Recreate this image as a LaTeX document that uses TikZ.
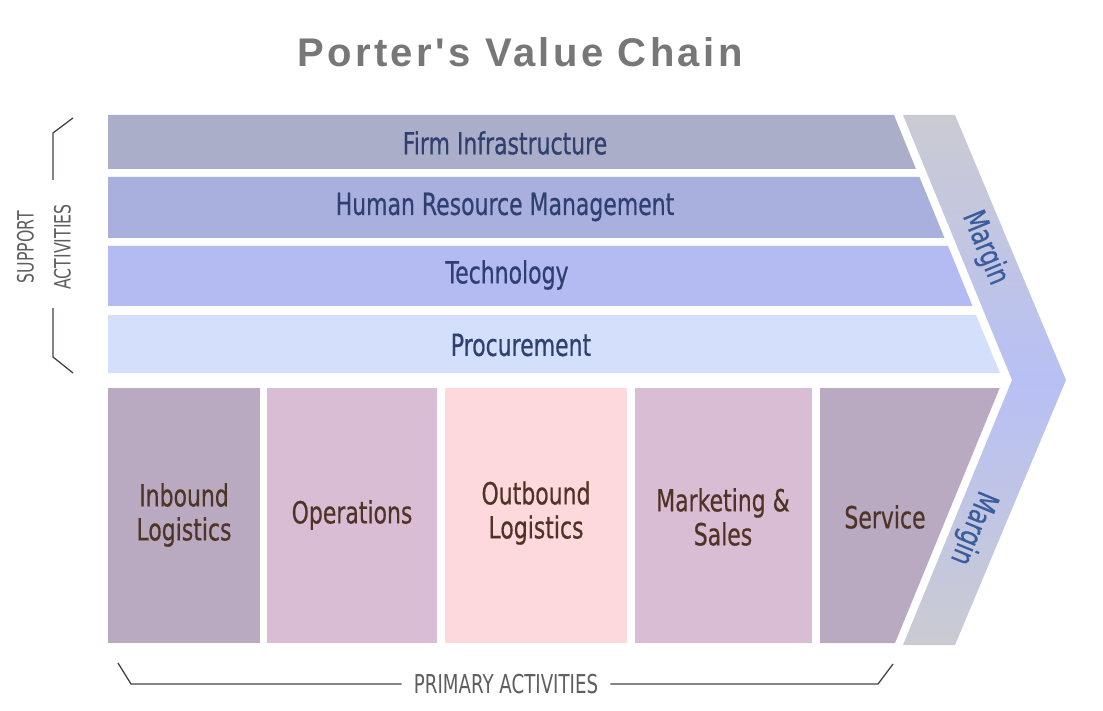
\documentclass[tikz,border=0pt]{standalone}
\usepackage{fontspec}
\setmainfont{Liberation Sans}
\newfontfamily\narrowfont[FakeStretch=0.72,FakeBold=0.5]{DejaVu Sans}
\newfontfamily\labelfont[FakeStretch=0.7]{DejaVu Sans}
\newfontfamily\titlefont[LetterSpace=8.5]{Liberation Sans}
\definecolor{fiC}{HTML}{ABAEC8}
\definecolor{hrC}{HTML}{A9B0DE}
\definecolor{teC}{HTML}{B3BBF2}
\definecolor{prC}{HTML}{D3DFFB}
\definecolor{darkP}{HTML}{B9AAC2}
\definecolor{lightP}{HTML}{D9BDD5}
\definecolor{pinkP}{HTML}{FDD8DC}
\definecolor{supTxt}{HTML}{2E3F70}
\definecolor{priTxt}{HTML}{4E3424}
\definecolor{grayTxt}{HTML}{5E5E5E}
\definecolor{titleC}{HTML}{777777}
\definecolor{mgGray}{HTML}{CACBD2}
\definecolor{mgBlue}{HTML}{B8C0F4}
\definecolor{mgTxt}{HTML}{3B5C9C}
\definecolor{brC}{HTML}{4A4040}
\tikzset{
  suptext/.style={font=\narrowfont\fontsize{30.5}{33}\selectfont, text=supTxt, inner sep=0pt},
  pritext/.style={font=\narrowfont\fontsize{30.5}{34}\selectfont, text=priTxt, inner sep=0pt, align=center},
  margintext/.style={font=\narrowfont\fontsize{31}{33}\selectfont, text=mgTxt, inner sep=0pt},
  labeltext/.style={font=\labelfont\fontsize{22.5}{37}\selectfont, text=grayTxt, inner sep=0pt, align=center},
  bracket/.style={draw=brC, line width=1.3pt}
}
\begin{document}
\begin{tikzpicture}[x=1pt,y=-1pt]
\useasboundingbox (0,0) rectangle (1103,711);
\fill[white] (0,0) rectangle (1103,711);
% title
\node[font=\titlefont\bfseries\fontsize{40}{42}\selectfont, text=titleC, inner sep=0pt] (title) at (520,52) {Porter's Value Chain};
% margin chevron
\shade[top color=mgGray, bottom color=mgBlue] (903,115) -- (955,115) -- (1066,380) -- (1012,380) -- cycle;
\shade[top color=mgBlue, bottom color=mgGray] (1012,380) -- (1066,380) -- (955,645) -- (903,645) -- cycle;
\node[margintext, rotate=-67.7] (m1) at (985,248) {Margin};
\node[margintext, rotate=-112.3] (m2) at (973,528) {Margin};
% support bars
\fill[fiC] (108,115) -- (894,115) -- (916,169) -- (108,169) -- cycle;
\fill[hrC] (108,177) -- (919.5,177) -- (944.5,238) -- (108,238) -- cycle;
\fill[teC] (108,246) -- (948,246) -- (972.5,306) -- (108,306) -- cycle;
\fill[prC] (108,315) -- (976,315) -- (1000,373) -- (108,373) -- cycle;
\node[suptext] (fi) at (505,143) {Firm Infrastructure};
\node[suptext] (hr) at (505,207) {Human Resource Management};
\node[suptext] (te) at (507,275) {Technology};
\node[suptext] (pr) at (521,345) {Procurement};
% primary boxes
\fill[darkP] (108,388) rectangle (260,643);
\fill[lightP] (267,388) rectangle (437,643);
\fill[pinkP] (445,388) rectangle (627,643);
\fill[lightP] (635,388) rectangle (812,643);
\fill[darkP] (820,388) -- (999.7,388) -- (895,643) -- (820,643) -- cycle;
\node[pritext] (ib) at (184,515) {Inbound\\Logistics};
\node[pritext] (op) at (352,515) {Operations};
\node[pritext] (ob) at (536,513) {Outbound\\Logistics};
\node[pritext] (ms) at (723,517) {Marketing \&\\Sales};
\node[pritext] (sv) at (885,517) {Service};
% support activities label and bracket
\node[labeltext, rotate=90] (sa) at (44,247) {SUPPORT\\ACTIVITIES};
\coordinate (sbt1) at (73,118);
\coordinate (sbt2) at (53,133);
\coordinate (sbt3) at (53,180);
\coordinate (sbb1) at (53,308);
\coordinate (sbb2) at (53,357);
\coordinate (sbb3) at (73,373);
\draw[bracket] (sbt1) -- (sbt2) -- (sbt3);
\draw[bracket] (sbb1) -- (sbb2) -- (sbb3);
% primary activities label and bracket
\node[labeltext, font=\labelfont\fontsize{26}{28}\selectfont] (pa) at (506,684) {PRIMARY ACTIVITIES};
\coordinate (pl1) at (118,663);
\coordinate (pl2) at (131,684);
\coordinate (pr1) at (893,664);
\coordinate (pr2) at (878,684);
\draw[bracket] (pl1) -- (pl2) -- ([xshift=-12pt]pa.west |- pl2);
\draw[bracket] (pr1) -- (pr2) -- ([xshift=12pt]pa.east |- pr2);
\end{tikzpicture}
\end{document}
